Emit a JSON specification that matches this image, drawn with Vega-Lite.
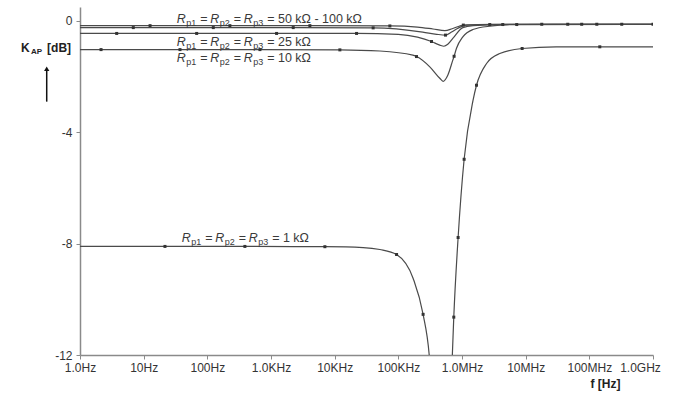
{
  "$schema": "https://vega.github.io/schema/vega-lite/v6.json",
  "width": 573,
  "height": 348,
  "autosize": {"type": "none"},
  "padding": {"left": 80, "top": 7, "right": 25, "bottom": 43},
  "background": "white",
  "config": {"view": {"stroke": null}, "font": "Liberation Sans"},
  "datasets": {
    "curves": [
      {"s": "100k", "f": 1, "db": -0.17, "mk": 0},
      {"s": "100k", "f": 12.6, "db": -0.17, "mk": 1},
      {"s": "100k", "f": 226, "db": -0.17, "mk": 1},
      {"s": "100k", "f": 4080, "db": -0.17, "mk": 1},
      {"s": "100k", "f": 73600, "db": -0.18, "mk": 1},
      {"s": "100k", "f": 200000, "db": -0.22, "mk": 0},
      {"s": "100k", "f": 350000, "db": -0.29, "mk": 0},
      {"s": "100k", "f": 540000, "db": -0.35, "mk": 0},
      {"s": "100k", "f": 700000, "db": -0.28, "mk": 0},
      {"s": "100k", "f": 900000, "db": -0.19, "mk": 0},
      {"s": "100k", "f": 1050000, "db": -0.15, "mk": 1},
      {"s": "100k", "f": 3000000, "db": -0.12, "mk": 0},
      {"s": "100k", "f": 45800000, "db": -0.12, "mk": 1},
      {"s": "100k", "f": 323000000, "db": -0.12, "mk": 1},
      {"s": "100k", "f": 1000000000, "db": -0.12, "mk": 0},

      {"s": "50k", "f": 1, "db": -0.24, "mk": 0},
      {"s": "50k", "f": 6.87, "db": -0.24, "mk": 1},
      {"s": "50k", "f": 124, "db": -0.24, "mk": 1},
      {"s": "50k", "f": 2233, "db": -0.24, "mk": 1},
      {"s": "50k", "f": 40200, "db": -0.25, "mk": 1},
      {"s": "50k", "f": 242000, "db": -0.4, "mk": 0},
      {"s": "50k", "f": 400000, "db": -0.48, "mk": 0},
      {"s": "50k", "f": 550000, "db": -0.51, "mk": 1},
      {"s": "50k", "f": 684000, "db": -0.4, "mk": 0},
      {"s": "50k", "f": 850000, "db": -0.27, "mk": 0},
      {"s": "50k", "f": 1180000, "db": -0.15, "mk": 0},
      {"s": "50k", "f": 2730000, "db": -0.13, "mk": 1},
      {"s": "50k", "f": 17900000, "db": -0.12, "mk": 1},
      {"s": "50k", "f": 131000000, "db": -0.12, "mk": 1},
      {"s": "50k", "f": 1000000000, "db": -0.12, "mk": 0},

      {"s": "25k", "f": 1, "db": -0.45, "mk": 0},
      {"s": "25k", "f": 3.77, "db": -0.45, "mk": 1},
      {"s": "25k", "f": 68, "db": -0.45, "mk": 1},
      {"s": "25k", "f": 1224, "db": -0.45, "mk": 1},
      {"s": "25k", "f": 22080, "db": -0.45, "mk": 1},
      {"s": "25k", "f": 100000, "db": -0.48, "mk": 0},
      {"s": "25k", "f": 200000, "db": -0.58, "mk": 0},
      {"s": "25k", "f": 332000, "db": -0.74, "mk": 1},
      {"s": "25k", "f": 448000, "db": -0.87, "mk": 0},
      {"s": "25k", "f": 520000, "db": -0.91, "mk": 0},
      {"s": "25k", "f": 598000, "db": -0.84, "mk": 0},
      {"s": "25k", "f": 717000, "db": -0.63, "mk": 0},
      {"s": "25k", "f": 1030000, "db": -0.24, "mk": 0},
      {"s": "25k", "f": 1500000, "db": -0.17, "mk": 0},
      {"s": "25k", "f": 4370000, "db": -0.13, "mk": 1},
      {"s": "25k", "f": 75900000, "db": -0.12, "mk": 1},
      {"s": "25k", "f": 1000000000, "db": -0.12, "mk": 0},

      {"s": "10k", "f": 1, "db": -1.03, "mk": 0},
      {"s": "10k", "f": 2.14, "db": -1.03, "mk": 1},
      {"s": "10k", "f": 37.2, "db": -1.03, "mk": 1},
      {"s": "10k", "f": 670, "db": -1.03, "mk": 1},
      {"s": "10k", "f": 12070, "db": -1.04, "mk": 1},
      {"s": "10k", "f": 51300, "db": -1.08, "mk": 0},
      {"s": "10k", "f": 169000, "db": -1.23, "mk": 0},
      {"s": "10k", "f": 193000, "db": -1.28, "mk": 1},
      {"s": "10k", "f": 312000, "db": -1.65, "mk": 0},
      {"s": "10k", "f": 448000, "db": -2.06, "mk": 0},
      {"s": "10k", "f": 505000, "db": -2.17, "mk": 0},
      {"s": "10k", "f": 598000, "db": -1.95, "mk": 0},
      {"s": "10k", "f": 717000, "db": -1.41, "mk": 0},
      {"s": "10k", "f": 751000, "db": -1.27, "mk": 1},
      {"s": "10k", "f": 820000, "db": -0.98, "mk": 0},
      {"s": "10k", "f": 1030000, "db": -0.57, "mk": 0},
      {"s": "10k", "f": 1480000, "db": -0.31, "mk": 0},
      {"s": "10k", "f": 2730000, "db": -0.19, "mk": 0},
      {"s": "10k", "f": 7240000, "db": -0.13, "mk": 1},
      {"s": "10k", "f": 1000000000, "db": -0.12, "mk": 1},

      {"s": "1k", "f": 1, "db": -8.1, "mk": 0},
      {"s": "1k", "f": 21.6, "db": -8.1, "mk": 1},
      {"s": "1k", "f": 389, "db": -8.1, "mk": 1},
      {"s": "1k", "f": 7020, "db": -8.11, "mk": 1},
      {"s": "1k", "f": 28000, "db": -8.14, "mk": 0},
      {"s": "1k", "f": 51300, "db": -8.21, "mk": 0},
      {"s": "1k", "f": 93800, "db": -8.39, "mk": 1},
      {"s": "1k", "f": 171000, "db": -9.25, "mk": 0},
      {"s": "1k", "f": 245000, "db": -10.54, "mk": 1},
      {"s": "1k", "f": 305000, "db": -11.98, "mk": 0},
      {"s": "1k", "f": 340000, "db": -13.5, "mk": 0},
      {"s": "1k", "f": 500000, "db": -25, "mk": 0},
      {"s": "1k", "f": 660000, "db": -13.5, "mk": 0},
      {"s": "1k", "f": 705000, "db": -12.0, "mk": 0},
      {"s": "1k", "f": 743000, "db": -10.64, "mk": 1},
      {"s": "1k", "f": 869000, "db": -7.78, "mk": 1},
      {"s": "1k", "f": 1080000, "db": -4.97, "mk": 1},
      {"s": "1k", "f": 1490000, "db": -2.85, "mk": 0},
      {"s": "1k", "f": 1690000, "db": -2.31, "mk": 1},
      {"s": "1k", "f": 2430000, "db": -1.53, "mk": 0},
      {"s": "1k", "f": 3920000, "db": -1.17, "mk": 0},
      {"s": "1k", "f": 8800000, "db": -0.99, "mk": 1},
      {"s": "1k", "f": 30000000, "db": -0.93, "mk": 0},
      {"s": "1k", "f": 146000000, "db": -0.93, "mk": 1},
      {"s": "1k", "f": 1000000000, "db": -0.93, "mk": 0}
    ],
    "labels": [
      {"f": 33, "db": -0.065, "val": "= 50 kΩ - 100 kΩ"},
      {"f": 33, "db": -0.91, "val": "= 25 kΩ"},
      {"f": 33, "db": -1.46, "val": "= 10 kΩ"},
      {"f": 39.5, "db": -7.95, "val": "= 1 kΩ"}
    ],
    "ytitle": [
      {"f": 0.1186, "db": -1.1}
    ],
    "arrow": [
      {"f": 0.3, "db": -2.9, "db2": -1.75, "tip": -1.72}
    ]
  },
  "encoding": {
    "x": {
      "field": "f",
      "type": "quantitative",
      "scale": {"type": "log", "domain": [1, 1000000000], "nice": false},
      "axis": {
        "values": [1, 10, 100, 1000, 10000, 100000, 1000000, 10000000, 100000000, 1000000000],
        "labelExpr": "['1.0Hz','10Hz','100Hz','1.0KHz','10KHz','100KHz','1.0MHz','10MHz','100MHz','1.0GHz'][round(log(datum.value)/LN10)]",
        "labelOffset": {"condition": {"test": "datum.value > 500000000", "value": -13}, "value": 0},
        "labelFlush": false,
        "labelOverlap": false,
        "labelFontSize": 12,
        "labelColor": "#333333",
        "labelPadding": 3,
        "domainColor": "#8a8a8a",
        "domainWidth": 1.5,
        "tickColor": "#8a8a8a",
        "tickSize": 4,
        "grid": false,
        "title": "f [Hz]",
        "titleFontSize": 12,
        "titleFontWeight": "bold",
        "titleColor": "#222222",
        "titleX": 525,
        "titleY": 28,
        "titleAlign": "center",
        "titleBaseline": "middle"
      }
    },
    "y": {
      "field": "db",
      "type": "quantitative",
      "scale": {"domain": [-12, 0.5], "nice": false, "zero": false},
      "axis": {
        "values": [0, -4, -8, -12],
        "labelExpr": "datum.value == 0 ? '0' : '-' + abs(datum.value)",
        "labelFontSize": 12,
        "labelColor": "#333333",
        "labelPadding": 4,
        "domainColor": "#8a8a8a",
        "domainWidth": 1.5,
        "tickColor": "#8a8a8a",
        "tickSize": 4,
        "grid": false,
        "title": null
      }
    }
  },
  "layer": [
    {
      "data": {"name": "curves"},
      "mark": {"type": "line", "clip": true, "interpolate": "monotone", "color": "#4a4a4a", "strokeWidth": 1.2},
      "encoding": {"detail": {"field": "s"}}
    },
    {
      "data": {"name": "curves"},
      "transform": [{"filter": "datum.mk == 1"}],
      "mark": {"type": "square", "clip": true, "size": 9, "filled": true, "color": "#333333", "opacity": 1}
    },
    {"data": {"name": "labels"}, "mark": {"type": "text", "text": "R", "fontStyle": "italic", "align": "left", "baseline": "alphabetic", "fontSize": 12.5, "color": "#3a3a3a", "dx": 0}},
    {"data": {"name": "labels"}, "mark": {"type": "text", "text": "p1", "align": "left", "baseline": "alphabetic", "fontSize": 9, "color": "#3a3a3a", "dx": 9.5, "dy": 3}},
    {"data": {"name": "labels"}, "mark": {"type": "text", "text": "=", "align": "left", "baseline": "alphabetic", "fontSize": 12.5, "color": "#3a3a3a", "dx": 23.5}},
    {"data": {"name": "labels"}, "mark": {"type": "text", "text": "R", "fontStyle": "italic", "align": "left", "baseline": "alphabetic", "fontSize": 12.5, "color": "#3a3a3a", "dx": 33.5}},
    {"data": {"name": "labels"}, "mark": {"type": "text", "text": "p2", "align": "left", "baseline": "alphabetic", "fontSize": 9, "color": "#3a3a3a", "dx": 43, "dy": 3}},
    {"data": {"name": "labels"}, "mark": {"type": "text", "text": "=", "align": "left", "baseline": "alphabetic", "fontSize": 12.5, "color": "#3a3a3a", "dx": 57}},
    {"data": {"name": "labels"}, "mark": {"type": "text", "text": "R", "fontStyle": "italic", "align": "left", "baseline": "alphabetic", "fontSize": 12.5, "color": "#3a3a3a", "dx": 67}},
    {"data": {"name": "labels"}, "mark": {"type": "text", "text": "p3", "align": "left", "baseline": "alphabetic", "fontSize": 9, "color": "#3a3a3a", "dx": 76.5, "dy": 3}},
    {"data": {"name": "labels"}, "mark": {"type": "text", "align": "left", "baseline": "alphabetic", "fontSize": 12.5, "color": "#3a3a3a", "dx": 90.5}, "encoding": {"text": {"field": "val"}}},
    {"data": {"name": "ytitle"}, "mark": {"type": "text", "text": "K", "fontWeight": "bold", "align": "left", "baseline": "alphabetic", "fontSize": 12, "color": "#222222", "dx": 0}},
    {"data": {"name": "ytitle"}, "mark": {"type": "text", "text": "AP", "fontWeight": "bold", "align": "left", "baseline": "alphabetic", "fontSize": 8, "color": "#222222", "dx": 10, "dy": 2}},
    {"data": {"name": "ytitle"}, "mark": {"type": "text", "text": "[dB]", "fontWeight": "bold", "align": "left", "baseline": "alphabetic", "fontSize": 12, "color": "#222222", "dx": 26}},
    {
      "data": {"name": "arrow"},
      "mark": {"type": "rule", "color": "#111111", "strokeWidth": 1.5},
      "encoding": {"y2": {"field": "db2"}}
    },
    {
      "data": {"name": "arrow"},
      "mark": {"type": "point", "shape": "triangle-up", "filled": true, "size": 28, "color": "#111111", "opacity": 1},
      "encoding": {"y": {"field": "tip", "type": "quantitative"}}
    }
  ]
}
